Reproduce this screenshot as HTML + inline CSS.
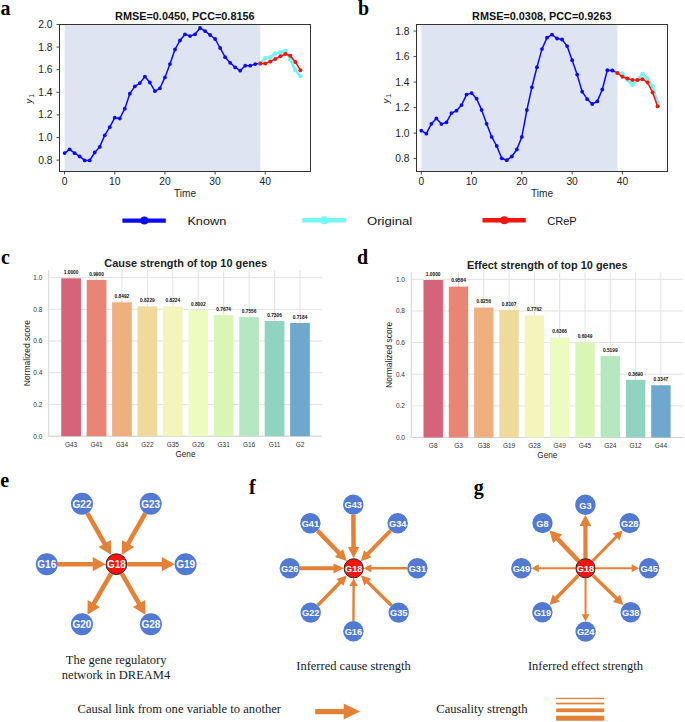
<!DOCTYPE html>
<html><head><meta charset="utf-8"><title>figure</title>
<style>html,body{margin:0;padding:0;background:#fff;overflow:hidden}svg{display:block}</style>
</head><body>
<svg width="685" height="722" viewBox="0 0 685 722">
<rect width="685" height="722" fill="#fff"/>
<rect x="64.60" y="24.5" width="195.66" height="147.0" fill="#dfe4f3"/>
<polyline points="64.60,153.10 69.62,149.30 74.63,153.20 79.65,156.40 84.67,160.40 89.69,160.40 94.70,152.50 99.72,146.90 104.74,135.30 109.75,127.20 114.77,117.70 119.79,118.50 124.80,108.70 129.82,93.70 134.84,86.40 139.86,83.10 144.87,76.60 149.89,82.50 154.91,91.20 159.92,88.30 164.94,77.40 169.96,64.10 174.97,49.50 179.99,40.40 185.01,34.30 190.03,36.10 195.04,34.30 200.06,28.00 205.08,31.10 210.09,35.00 215.11,39.00 220.13,48.00 225.14,57.20 230.16,62.80 235.18,67.40 240.19,70.70 245.21,65.70 250.23,65.70 255.25,64.10 260.26,63.50" fill="none" stroke="#0a0af5" stroke-width="1.5" stroke-linejoin="round"/>
<circle cx="64.60" cy="153.10" r="1.9" fill="#0a0af5"/>
<circle cx="69.62" cy="149.30" r="1.9" fill="#0a0af5"/>
<circle cx="74.63" cy="153.20" r="1.9" fill="#0a0af5"/>
<circle cx="79.65" cy="156.40" r="1.9" fill="#0a0af5"/>
<circle cx="84.67" cy="160.40" r="1.9" fill="#0a0af5"/>
<circle cx="89.69" cy="160.40" r="1.9" fill="#0a0af5"/>
<circle cx="94.70" cy="152.50" r="1.9" fill="#0a0af5"/>
<circle cx="99.72" cy="146.90" r="1.9" fill="#0a0af5"/>
<circle cx="104.74" cy="135.30" r="1.9" fill="#0a0af5"/>
<circle cx="109.75" cy="127.20" r="1.9" fill="#0a0af5"/>
<circle cx="114.77" cy="117.70" r="1.9" fill="#0a0af5"/>
<circle cx="119.79" cy="118.50" r="1.9" fill="#0a0af5"/>
<circle cx="124.80" cy="108.70" r="1.9" fill="#0a0af5"/>
<circle cx="129.82" cy="93.70" r="1.9" fill="#0a0af5"/>
<circle cx="134.84" cy="86.40" r="1.9" fill="#0a0af5"/>
<circle cx="139.86" cy="83.10" r="1.9" fill="#0a0af5"/>
<circle cx="144.87" cy="76.60" r="1.9" fill="#0a0af5"/>
<circle cx="149.89" cy="82.50" r="1.9" fill="#0a0af5"/>
<circle cx="154.91" cy="91.20" r="1.9" fill="#0a0af5"/>
<circle cx="159.92" cy="88.30" r="1.9" fill="#0a0af5"/>
<circle cx="164.94" cy="77.40" r="1.9" fill="#0a0af5"/>
<circle cx="169.96" cy="64.10" r="1.9" fill="#0a0af5"/>
<circle cx="174.97" cy="49.50" r="1.9" fill="#0a0af5"/>
<circle cx="179.99" cy="40.40" r="1.9" fill="#0a0af5"/>
<circle cx="185.01" cy="34.30" r="1.9" fill="#0a0af5"/>
<circle cx="190.03" cy="36.10" r="1.9" fill="#0a0af5"/>
<circle cx="195.04" cy="34.30" r="1.9" fill="#0a0af5"/>
<circle cx="200.06" cy="28.00" r="1.9" fill="#0a0af5"/>
<circle cx="205.08" cy="31.10" r="1.9" fill="#0a0af5"/>
<circle cx="210.09" cy="35.00" r="1.9" fill="#0a0af5"/>
<circle cx="215.11" cy="39.00" r="1.9" fill="#0a0af5"/>
<circle cx="220.13" cy="48.00" r="1.9" fill="#0a0af5"/>
<circle cx="225.14" cy="57.20" r="1.9" fill="#0a0af5"/>
<circle cx="230.16" cy="62.80" r="1.9" fill="#0a0af5"/>
<circle cx="235.18" cy="67.40" r="1.9" fill="#0a0af5"/>
<circle cx="240.19" cy="70.70" r="1.9" fill="#0a0af5"/>
<circle cx="245.21" cy="65.70" r="1.9" fill="#0a0af5"/>
<circle cx="250.23" cy="65.70" r="1.9" fill="#0a0af5"/>
<circle cx="255.25" cy="64.10" r="1.9" fill="#0a0af5"/>
<circle cx="260.26" cy="63.50" r="1.9" fill="#0a0af5"/>
<polyline points="260.26,63.50 265.28,58.20 270.30,57.30 275.31,53.40 280.33,52.30 285.35,50.90 290.37,59.50 295.38,70.10 300.40,76.10" fill="none" stroke="#72f5f2" stroke-width="2.6" stroke-linejoin="round"/>
<circle cx="260.26" cy="63.50" r="2.2" fill="#72f5f2"/>
<circle cx="265.28" cy="58.20" r="2.2" fill="#72f5f2"/>
<circle cx="270.30" cy="57.30" r="2.2" fill="#72f5f2"/>
<circle cx="275.31" cy="53.40" r="2.2" fill="#72f5f2"/>
<circle cx="280.33" cy="52.30" r="2.2" fill="#72f5f2"/>
<circle cx="285.35" cy="50.90" r="2.2" fill="#72f5f2"/>
<circle cx="290.37" cy="59.50" r="2.2" fill="#72f5f2"/>
<circle cx="295.38" cy="70.10" r="2.2" fill="#72f5f2"/>
<circle cx="300.40" cy="76.10" r="2.2" fill="#72f5f2"/>
<polyline points="260.26,63.50 265.28,63.50 270.30,61.40 275.31,58.90 280.33,56.30 285.35,54.10 290.37,55.80 295.38,61.90 300.40,70.20" fill="none" stroke="#f5150f" stroke-width="1.5" stroke-linejoin="round"/>
<circle cx="260.26" cy="63.50" r="2.0" fill="#f5150f"/>
<circle cx="265.28" cy="63.50" r="2.0" fill="#f5150f"/>
<circle cx="270.30" cy="61.40" r="2.0" fill="#f5150f"/>
<circle cx="275.31" cy="58.90" r="2.0" fill="#f5150f"/>
<circle cx="280.33" cy="56.30" r="2.0" fill="#f5150f"/>
<circle cx="285.35" cy="54.10" r="2.0" fill="#f5150f"/>
<circle cx="290.37" cy="55.80" r="2.0" fill="#f5150f"/>
<circle cx="295.38" cy="61.90" r="2.0" fill="#f5150f"/>
<circle cx="300.40" cy="70.20" r="2.0" fill="#f5150f"/>
<rect x="59.5" y="24.5" width="251.0" height="147.0" fill="none" stroke="#333" stroke-width="1"/>
<line x1="56.5" y1="160.10" x2="59.5" y2="160.10" stroke="#333" stroke-width="0.9"/>
<text x="52.50" y="163.60" font-family="Liberation Sans" font-size="10.2" fill="#1e1e1e" text-anchor="end" textLength="14.31" lengthAdjust="spacingAndGlyphs">0.8</text>
<line x1="56.5" y1="137.49" x2="59.5" y2="137.49" stroke="#333" stroke-width="0.9"/>
<text x="52.50" y="140.99" font-family="Liberation Sans" font-size="10.2" fill="#1e1e1e" text-anchor="end" textLength="14.31" lengthAdjust="spacingAndGlyphs">1.0</text>
<line x1="56.5" y1="114.88" x2="59.5" y2="114.88" stroke="#333" stroke-width="0.9"/>
<text x="52.50" y="118.38" font-family="Liberation Sans" font-size="10.2" fill="#1e1e1e" text-anchor="end" textLength="14.31" lengthAdjust="spacingAndGlyphs">1.2</text>
<line x1="56.5" y1="92.28" x2="59.5" y2="92.28" stroke="#333" stroke-width="0.9"/>
<text x="52.50" y="95.78" font-family="Liberation Sans" font-size="10.2" fill="#1e1e1e" text-anchor="end" textLength="14.31" lengthAdjust="spacingAndGlyphs">1.4</text>
<line x1="56.5" y1="69.67" x2="59.5" y2="69.67" stroke="#333" stroke-width="0.9"/>
<text x="52.50" y="73.17" font-family="Liberation Sans" font-size="10.2" fill="#1e1e1e" text-anchor="end" textLength="14.31" lengthAdjust="spacingAndGlyphs">1.6</text>
<line x1="56.5" y1="47.06" x2="59.5" y2="47.06" stroke="#333" stroke-width="0.9"/>
<text x="52.50" y="50.56" font-family="Liberation Sans" font-size="10.2" fill="#1e1e1e" text-anchor="end" textLength="14.31" lengthAdjust="spacingAndGlyphs">1.8</text>
<line x1="56.5" y1="24.45" x2="59.5" y2="24.45" stroke="#333" stroke-width="0.9"/>
<text x="52.50" y="27.95" font-family="Liberation Sans" font-size="10.2" fill="#1e1e1e" text-anchor="end" textLength="14.31" lengthAdjust="spacingAndGlyphs">2.0</text>
<line x1="64.60" y1="171.5" x2="64.60" y2="174.5" stroke="#333" stroke-width="0.9"/>
<text x="64.60" y="184.60" font-family="Liberation Sans" font-size="10.2" fill="#1e1e1e" text-anchor="middle" textLength="5.73" lengthAdjust="spacingAndGlyphs">0</text>
<line x1="114.77" y1="171.5" x2="114.77" y2="174.5" stroke="#333" stroke-width="0.9"/>
<text x="114.77" y="184.60" font-family="Liberation Sans" font-size="10.2" fill="#1e1e1e" text-anchor="middle" textLength="11.45" lengthAdjust="spacingAndGlyphs">10</text>
<line x1="164.94" y1="171.5" x2="164.94" y2="174.5" stroke="#333" stroke-width="0.9"/>
<text x="164.94" y="184.60" font-family="Liberation Sans" font-size="10.2" fill="#1e1e1e" text-anchor="middle" textLength="11.45" lengthAdjust="spacingAndGlyphs">20</text>
<line x1="215.11" y1="171.5" x2="215.11" y2="174.5" stroke="#333" stroke-width="0.9"/>
<text x="215.11" y="184.60" font-family="Liberation Sans" font-size="10.2" fill="#1e1e1e" text-anchor="middle" textLength="11.45" lengthAdjust="spacingAndGlyphs">30</text>
<line x1="265.28" y1="171.5" x2="265.28" y2="174.5" stroke="#333" stroke-width="0.9"/>
<text x="265.28" y="184.60" font-family="Liberation Sans" font-size="10.2" fill="#1e1e1e" text-anchor="middle" textLength="11.45" lengthAdjust="spacingAndGlyphs">40</text>
<text x="185.00" y="196.60" font-family="Liberation Sans" font-size="10.2" fill="#1e1e1e" text-anchor="middle" textLength="22.03" lengthAdjust="spacingAndGlyphs">Time</text>
<text x="184.85" y="19.70" font-family="Liberation Sans" font-size="10.0" font-weight="bold" fill="#111" text-anchor="middle" textLength="139.42" lengthAdjust="spacingAndGlyphs">RMSE=0.0450, PCC=0.8156</text>
<g transform="translate(32.20,103.60) rotate(-90)"><text x="0" y="0" font-family="Liberation Sans" font-size="9.6" font-style="italic" fill="#1e1e1e">y</text><text x="5.9" y="1.6" font-family="Liberation Sans" font-size="6.9" fill="#1e1e1e">1</text></g>
<rect x="421.30" y="24.5" width="196.07" height="147.0" fill="#dfe4f3"/>
<polyline points="421.30,130.70 426.33,133.70 431.36,123.80 436.38,118.40 441.41,124.10 446.44,122.30 451.47,113.10 456.49,110.70 461.52,105.10 466.55,94.60 471.57,93.10 476.60,98.70 481.63,109.90 486.66,123.80 491.69,136.90 496.71,146.00 501.74,158.30 506.77,160.20 511.80,156.50 516.82,149.50 521.85,136.90 526.88,110.00 531.90,87.30 536.93,67.20 541.96,49.10 546.99,37.70 552.01,34.70 557.04,38.50 562.07,39.50 567.10,46.10 572.12,60.20 577.15,74.60 582.18,91.70 587.21,99.20 592.24,104.00 597.26,101.40 602.29,89.50 607.32,70.20 612.35,70.50 617.37,72.90" fill="none" stroke="#0a0af5" stroke-width="1.5" stroke-linejoin="round"/>
<circle cx="421.30" cy="130.70" r="1.9" fill="#0a0af5"/>
<circle cx="426.33" cy="133.70" r="1.9" fill="#0a0af5"/>
<circle cx="431.36" cy="123.80" r="1.9" fill="#0a0af5"/>
<circle cx="436.38" cy="118.40" r="1.9" fill="#0a0af5"/>
<circle cx="441.41" cy="124.10" r="1.9" fill="#0a0af5"/>
<circle cx="446.44" cy="122.30" r="1.9" fill="#0a0af5"/>
<circle cx="451.47" cy="113.10" r="1.9" fill="#0a0af5"/>
<circle cx="456.49" cy="110.70" r="1.9" fill="#0a0af5"/>
<circle cx="461.52" cy="105.10" r="1.9" fill="#0a0af5"/>
<circle cx="466.55" cy="94.60" r="1.9" fill="#0a0af5"/>
<circle cx="471.57" cy="93.10" r="1.9" fill="#0a0af5"/>
<circle cx="476.60" cy="98.70" r="1.9" fill="#0a0af5"/>
<circle cx="481.63" cy="109.90" r="1.9" fill="#0a0af5"/>
<circle cx="486.66" cy="123.80" r="1.9" fill="#0a0af5"/>
<circle cx="491.69" cy="136.90" r="1.9" fill="#0a0af5"/>
<circle cx="496.71" cy="146.00" r="1.9" fill="#0a0af5"/>
<circle cx="501.74" cy="158.30" r="1.9" fill="#0a0af5"/>
<circle cx="506.77" cy="160.20" r="1.9" fill="#0a0af5"/>
<circle cx="511.80" cy="156.50" r="1.9" fill="#0a0af5"/>
<circle cx="516.82" cy="149.50" r="1.9" fill="#0a0af5"/>
<circle cx="521.85" cy="136.90" r="1.9" fill="#0a0af5"/>
<circle cx="526.88" cy="110.00" r="1.9" fill="#0a0af5"/>
<circle cx="531.90" cy="87.30" r="1.9" fill="#0a0af5"/>
<circle cx="536.93" cy="67.20" r="1.9" fill="#0a0af5"/>
<circle cx="541.96" cy="49.10" r="1.9" fill="#0a0af5"/>
<circle cx="546.99" cy="37.70" r="1.9" fill="#0a0af5"/>
<circle cx="552.01" cy="34.70" r="1.9" fill="#0a0af5"/>
<circle cx="557.04" cy="38.50" r="1.9" fill="#0a0af5"/>
<circle cx="562.07" cy="39.50" r="1.9" fill="#0a0af5"/>
<circle cx="567.10" cy="46.10" r="1.9" fill="#0a0af5"/>
<circle cx="572.12" cy="60.20" r="1.9" fill="#0a0af5"/>
<circle cx="577.15" cy="74.60" r="1.9" fill="#0a0af5"/>
<circle cx="582.18" cy="91.70" r="1.9" fill="#0a0af5"/>
<circle cx="587.21" cy="99.20" r="1.9" fill="#0a0af5"/>
<circle cx="592.24" cy="104.00" r="1.9" fill="#0a0af5"/>
<circle cx="597.26" cy="101.40" r="1.9" fill="#0a0af5"/>
<circle cx="602.29" cy="89.50" r="1.9" fill="#0a0af5"/>
<circle cx="607.32" cy="70.20" r="1.9" fill="#0a0af5"/>
<circle cx="612.35" cy="70.50" r="1.9" fill="#0a0af5"/>
<circle cx="617.37" cy="72.90" r="1.9" fill="#0a0af5"/>
<polyline points="617.37,72.90 622.40,73.70 627.43,80.10 632.46,84.80 637.48,79.80 642.51,74.00 647.54,78.40 652.57,86.30 657.59,102.60" fill="none" stroke="#72f5f2" stroke-width="2.6" stroke-linejoin="round"/>
<circle cx="617.37" cy="72.90" r="2.2" fill="#72f5f2"/>
<circle cx="622.40" cy="73.70" r="2.2" fill="#72f5f2"/>
<circle cx="627.43" cy="80.10" r="2.2" fill="#72f5f2"/>
<circle cx="632.46" cy="84.80" r="2.2" fill="#72f5f2"/>
<circle cx="637.48" cy="79.80" r="2.2" fill="#72f5f2"/>
<circle cx="642.51" cy="74.00" r="2.2" fill="#72f5f2"/>
<circle cx="647.54" cy="78.40" r="2.2" fill="#72f5f2"/>
<circle cx="652.57" cy="86.30" r="2.2" fill="#72f5f2"/>
<circle cx="657.59" cy="102.60" r="2.2" fill="#72f5f2"/>
<polyline points="617.37,72.90 622.40,76.80 627.43,78.60 632.46,80.10 637.48,80.10 642.51,79.20 647.54,82.40 652.57,92.40 657.59,106.20" fill="none" stroke="#f5150f" stroke-width="1.5" stroke-linejoin="round"/>
<circle cx="617.37" cy="72.90" r="2.0" fill="#f5150f"/>
<circle cx="622.40" cy="76.80" r="2.0" fill="#f5150f"/>
<circle cx="627.43" cy="78.60" r="2.0" fill="#f5150f"/>
<circle cx="632.46" cy="80.10" r="2.0" fill="#f5150f"/>
<circle cx="637.48" cy="80.10" r="2.0" fill="#f5150f"/>
<circle cx="642.51" cy="79.20" r="2.0" fill="#f5150f"/>
<circle cx="647.54" cy="82.40" r="2.0" fill="#f5150f"/>
<circle cx="652.57" cy="92.40" r="2.0" fill="#f5150f"/>
<circle cx="657.59" cy="106.20" r="2.0" fill="#f5150f"/>
<rect x="416.5" y="24.5" width="251.0" height="147.0" fill="none" stroke="#333" stroke-width="1"/>
<line x1="413.5" y1="158.60" x2="416.5" y2="158.60" stroke="#333" stroke-width="0.9"/>
<text x="409.50" y="162.10" font-family="Liberation Sans" font-size="10.2" fill="#1e1e1e" text-anchor="end" textLength="14.31" lengthAdjust="spacingAndGlyphs">0.8</text>
<line x1="413.5" y1="133.10" x2="416.5" y2="133.10" stroke="#333" stroke-width="0.9"/>
<text x="409.50" y="136.60" font-family="Liberation Sans" font-size="10.2" fill="#1e1e1e" text-anchor="end" textLength="14.31" lengthAdjust="spacingAndGlyphs">1.0</text>
<line x1="413.5" y1="107.60" x2="416.5" y2="107.60" stroke="#333" stroke-width="0.9"/>
<text x="409.50" y="111.10" font-family="Liberation Sans" font-size="10.2" fill="#1e1e1e" text-anchor="end" textLength="14.31" lengthAdjust="spacingAndGlyphs">1.2</text>
<line x1="413.5" y1="82.10" x2="416.5" y2="82.10" stroke="#333" stroke-width="0.9"/>
<text x="409.50" y="85.60" font-family="Liberation Sans" font-size="10.2" fill="#1e1e1e" text-anchor="end" textLength="14.31" lengthAdjust="spacingAndGlyphs">1.4</text>
<line x1="413.5" y1="56.60" x2="416.5" y2="56.60" stroke="#333" stroke-width="0.9"/>
<text x="409.50" y="60.10" font-family="Liberation Sans" font-size="10.2" fill="#1e1e1e" text-anchor="end" textLength="14.31" lengthAdjust="spacingAndGlyphs">1.6</text>
<line x1="413.5" y1="31.10" x2="416.5" y2="31.10" stroke="#333" stroke-width="0.9"/>
<text x="409.50" y="34.60" font-family="Liberation Sans" font-size="10.2" fill="#1e1e1e" text-anchor="end" textLength="14.31" lengthAdjust="spacingAndGlyphs">1.8</text>
<line x1="421.30" y1="171.5" x2="421.30" y2="174.5" stroke="#333" stroke-width="0.9"/>
<text x="421.30" y="184.60" font-family="Liberation Sans" font-size="10.2" fill="#1e1e1e" text-anchor="middle" textLength="5.73" lengthAdjust="spacingAndGlyphs">0</text>
<line x1="471.57" y1="171.5" x2="471.57" y2="174.5" stroke="#333" stroke-width="0.9"/>
<text x="471.57" y="184.60" font-family="Liberation Sans" font-size="10.2" fill="#1e1e1e" text-anchor="middle" textLength="11.45" lengthAdjust="spacingAndGlyphs">10</text>
<line x1="521.85" y1="171.5" x2="521.85" y2="174.5" stroke="#333" stroke-width="0.9"/>
<text x="521.85" y="184.60" font-family="Liberation Sans" font-size="10.2" fill="#1e1e1e" text-anchor="middle" textLength="11.45" lengthAdjust="spacingAndGlyphs">20</text>
<line x1="572.12" y1="171.5" x2="572.12" y2="174.5" stroke="#333" stroke-width="0.9"/>
<text x="572.12" y="184.60" font-family="Liberation Sans" font-size="10.2" fill="#1e1e1e" text-anchor="middle" textLength="11.45" lengthAdjust="spacingAndGlyphs">30</text>
<line x1="622.40" y1="171.5" x2="622.40" y2="174.5" stroke="#333" stroke-width="0.9"/>
<text x="622.40" y="184.60" font-family="Liberation Sans" font-size="10.2" fill="#1e1e1e" text-anchor="middle" textLength="11.45" lengthAdjust="spacingAndGlyphs">40</text>
<text x="542.00" y="196.60" font-family="Liberation Sans" font-size="10.2" fill="#1e1e1e" text-anchor="middle" textLength="22.03" lengthAdjust="spacingAndGlyphs">Time</text>
<text x="541.80" y="19.70" font-family="Liberation Sans" font-size="10.0" font-weight="bold" fill="#111" text-anchor="middle" textLength="139.42" lengthAdjust="spacingAndGlyphs">RMSE=0.0308, PCC=0.9263</text>
<g transform="translate(389.20,103.60) rotate(-90)"><text x="0" y="0" font-family="Liberation Sans" font-size="9.6" font-style="italic" fill="#1e1e1e">y</text><text x="5.9" y="1.6" font-family="Liberation Sans" font-size="6.9" fill="#1e1e1e">1</text></g>
<text x="0.55" y="15.10" font-family="Liberation Serif" font-size="20" font-weight="bold" fill="#000">a</text>
<text x="357.90" y="15.40" font-family="Liberation Serif" font-size="20" font-weight="bold" fill="#000">b</text>
<text x="0.95" y="263.50" font-family="Liberation Serif" font-size="20" font-weight="bold" fill="#000">c</text>
<text x="357.10" y="263.70" font-family="Liberation Serif" font-size="20" font-weight="bold" fill="#000">d</text>
<text x="0.15" y="487.20" font-family="Liberation Serif" font-size="20" font-weight="bold" fill="#000">e</text>
<text x="249.00" y="493.50" font-family="Liberation Serif" font-size="20" font-weight="bold" fill="#000">f</text>
<text x="473.80" y="493.60" font-family="Liberation Serif" font-size="20" font-weight="bold" fill="#000">g</text>
<line x1="122.4" y1="220.6" x2="165.8" y2="220.6" stroke="#0a0af5" stroke-width="4.4"/>
<circle cx="144.3" cy="220.6" r="4" fill="#0a0af5"/>
<text x="187.40" y="224.50" font-family="Liberation Sans" font-size="11.8" fill="#141414" textLength="38.90" lengthAdjust="spacingAndGlyphs">Known</text>
<line x1="302.3" y1="220.3" x2="345.8" y2="220.3" stroke="#72f9f5" stroke-width="4.4"/>
<circle cx="324.3" cy="220.3" r="4" fill="#72f9f5"/>
<text x="367.00" y="224.50" font-family="Liberation Sans" font-size="11.8" fill="#141414" textLength="45.20" lengthAdjust="spacingAndGlyphs">Original</text>
<line x1="482.5" y1="220.3" x2="525.8" y2="220.3" stroke="#f5150f" stroke-width="4.4"/>
<circle cx="504.3" cy="220.3" r="4" fill="#f5150f"/>
<text x="547.20" y="224.50" font-family="Liberation Sans" font-size="11.8" fill="#141414" textLength="29.50" lengthAdjust="spacingAndGlyphs">CReP</text>
<line x1="48.7" y1="436.20" x2="322.2" y2="436.20" stroke="#e2e2e2" stroke-width="1"/>
<text x="42.40" y="438.50" font-family="Liberation Sans" font-size="6.5" fill="#333" text-anchor="end">0.0</text>
<line x1="48.7" y1="404.48" x2="322.2" y2="404.48" stroke="#e2e2e2" stroke-width="1"/>
<text x="42.40" y="406.78" font-family="Liberation Sans" font-size="6.5" fill="#333" text-anchor="end">0.2</text>
<line x1="48.7" y1="372.76" x2="322.2" y2="372.76" stroke="#e2e2e2" stroke-width="1"/>
<text x="42.40" y="375.06" font-family="Liberation Sans" font-size="6.5" fill="#333" text-anchor="end">0.4</text>
<line x1="48.7" y1="341.04" x2="322.2" y2="341.04" stroke="#e2e2e2" stroke-width="1"/>
<text x="42.40" y="343.34" font-family="Liberation Sans" font-size="6.5" fill="#333" text-anchor="end">0.6</text>
<line x1="48.7" y1="309.32" x2="322.2" y2="309.32" stroke="#e2e2e2" stroke-width="1"/>
<text x="42.40" y="311.62" font-family="Liberation Sans" font-size="6.5" fill="#333" text-anchor="end">0.8</text>
<line x1="48.7" y1="277.60" x2="322.2" y2="277.60" stroke="#e2e2e2" stroke-width="1"/>
<text x="42.40" y="279.90" font-family="Liberation Sans" font-size="6.5" fill="#333" text-anchor="end">1.0</text>
<line x1="71.10" y1="270.2" x2="71.10" y2="436.2" stroke="#e2e2e2" stroke-width="1"/>
<line x1="96.53" y1="270.2" x2="96.53" y2="436.2" stroke="#e2e2e2" stroke-width="1"/>
<line x1="121.96" y1="270.2" x2="121.96" y2="436.2" stroke="#e2e2e2" stroke-width="1"/>
<line x1="147.39" y1="270.2" x2="147.39" y2="436.2" stroke="#e2e2e2" stroke-width="1"/>
<line x1="172.82" y1="270.2" x2="172.82" y2="436.2" stroke="#e2e2e2" stroke-width="1"/>
<line x1="198.25" y1="270.2" x2="198.25" y2="436.2" stroke="#e2e2e2" stroke-width="1"/>
<line x1="223.68" y1="270.2" x2="223.68" y2="436.2" stroke="#e2e2e2" stroke-width="1"/>
<line x1="249.11" y1="270.2" x2="249.11" y2="436.2" stroke="#e2e2e2" stroke-width="1"/>
<line x1="274.54" y1="270.2" x2="274.54" y2="436.2" stroke="#e2e2e2" stroke-width="1"/>
<line x1="299.97" y1="270.2" x2="299.97" y2="436.2" stroke="#e2e2e2" stroke-width="1"/>
<line x1="48.7" y1="270.2" x2="48.7" y2="436.7" stroke="#d4d6d6" stroke-width="1"/>
<line x1="48.7" y1="436.2" x2="322.2" y2="436.2" stroke="#d4d6d6" stroke-width="1"/>
<rect x="61.25" y="278.30" width="19.7" height="157.90" fill="#d5637a"/>
<text x="71.10" y="274.10" font-family="Liberation Sans" font-size="4.8" font-weight="bold" fill="#111" text-anchor="middle">1.0000</text>
<text x="71.10" y="446.90" font-family="Liberation Sans" font-size="6.5" fill="#333" text-anchor="middle">G43</text>
<rect x="86.68" y="279.89" width="19.7" height="156.31" fill="#e88574"/>
<text x="96.53" y="275.69" font-family="Liberation Sans" font-size="4.8" font-weight="bold" fill="#111" text-anchor="middle">0.9900</text>
<text x="96.53" y="446.90" font-family="Liberation Sans" font-size="6.5" fill="#333" text-anchor="middle">G41</text>
<rect x="112.11" y="302.22" width="19.7" height="133.98" fill="#efb07f"/>
<text x="121.96" y="298.02" font-family="Liberation Sans" font-size="4.8" font-weight="bold" fill="#111" text-anchor="middle">0.8492</text>
<text x="121.96" y="446.90" font-family="Liberation Sans" font-size="6.5" fill="#333" text-anchor="middle">G34</text>
<rect x="137.54" y="306.39" width="19.7" height="129.81" fill="#f0da9b"/>
<text x="147.39" y="302.19" font-family="Liberation Sans" font-size="4.8" font-weight="bold" fill="#111" text-anchor="middle">0.8229</text>
<text x="147.39" y="446.90" font-family="Liberation Sans" font-size="6.5" fill="#333" text-anchor="middle">G22</text>
<rect x="162.97" y="306.47" width="19.7" height="129.73" fill="#f4f5bc"/>
<text x="172.82" y="302.27" font-family="Liberation Sans" font-size="4.8" font-weight="bold" fill="#111" text-anchor="middle">0.8224</text>
<text x="172.82" y="446.90" font-family="Liberation Sans" font-size="6.5" fill="#333" text-anchor="middle">G35</text>
<rect x="188.40" y="309.99" width="19.7" height="126.21" fill="#eefbc0"/>
<text x="198.25" y="305.79" font-family="Liberation Sans" font-size="4.8" font-weight="bold" fill="#111" text-anchor="middle">0.8002</text>
<text x="198.25" y="446.90" font-family="Liberation Sans" font-size="6.5" fill="#333" text-anchor="middle">G26</text>
<rect x="213.83" y="315.19" width="19.7" height="121.01" fill="#d9f6b4"/>
<text x="223.68" y="310.99" font-family="Liberation Sans" font-size="4.8" font-weight="bold" fill="#111" text-anchor="middle">0.7674</text>
<text x="223.68" y="446.90" font-family="Liberation Sans" font-size="6.5" fill="#333" text-anchor="middle">G31</text>
<rect x="239.26" y="317.06" width="19.7" height="119.14" fill="#b5e8c0"/>
<text x="249.11" y="312.86" font-family="Liberation Sans" font-size="4.8" font-weight="bold" fill="#111" text-anchor="middle">0.7556</text>
<text x="249.11" y="446.90" font-family="Liberation Sans" font-size="6.5" fill="#333" text-anchor="middle">G16</text>
<rect x="264.69" y="321.03" width="19.7" height="115.17" fill="#8fd3c0"/>
<text x="274.54" y="316.83" font-family="Liberation Sans" font-size="4.8" font-weight="bold" fill="#111" text-anchor="middle">0.7306</text>
<text x="274.54" y="446.90" font-family="Liberation Sans" font-size="6.5" fill="#333" text-anchor="middle">G11</text>
<rect x="290.12" y="322.96" width="19.7" height="113.24" fill="#6ea8cd"/>
<text x="299.97" y="318.76" font-family="Liberation Sans" font-size="4.8" font-weight="bold" fill="#111" text-anchor="middle">0.7184</text>
<text x="299.97" y="446.90" font-family="Liberation Sans" font-size="6.5" fill="#333" text-anchor="middle">G2</text>
<text x="185.45" y="457.00" font-family="Liberation Sans" font-size="8.2" fill="#262626" text-anchor="middle">Gene</text>
<text transform="translate(29.90,353.20) rotate(-90)" x="0" y="0" font-family="Liberation Sans" font-size="8.5" fill="#262626" text-anchor="middle">Normalized score</text>
<text x="185.70" y="266.70" font-family="Liberation Sans" font-size="10.95" font-weight="bold" fill="#222" text-anchor="middle">Cause strength of top 10 genes</text>
<line x1="411.3" y1="437.50" x2="683.3" y2="437.50" stroke="#e2e2e2" stroke-width="1"/>
<text x="405.00" y="439.80" font-family="Liberation Sans" font-size="6.5" fill="#333" text-anchor="end">0.0</text>
<line x1="411.3" y1="405.86" x2="683.3" y2="405.86" stroke="#e2e2e2" stroke-width="1"/>
<text x="405.00" y="408.16" font-family="Liberation Sans" font-size="6.5" fill="#333" text-anchor="end">0.2</text>
<line x1="411.3" y1="374.22" x2="683.3" y2="374.22" stroke="#e2e2e2" stroke-width="1"/>
<text x="405.00" y="376.52" font-family="Liberation Sans" font-size="6.5" fill="#333" text-anchor="end">0.4</text>
<line x1="411.3" y1="342.58" x2="683.3" y2="342.58" stroke="#e2e2e2" stroke-width="1"/>
<text x="405.00" y="344.88" font-family="Liberation Sans" font-size="6.5" fill="#333" text-anchor="end">0.6</text>
<line x1="411.3" y1="310.94" x2="683.3" y2="310.94" stroke="#e2e2e2" stroke-width="1"/>
<text x="405.00" y="313.24" font-family="Liberation Sans" font-size="6.5" fill="#333" text-anchor="end">0.8</text>
<line x1="411.3" y1="279.30" x2="683.3" y2="279.30" stroke="#e2e2e2" stroke-width="1"/>
<text x="405.00" y="281.60" font-family="Liberation Sans" font-size="6.5" fill="#333" text-anchor="end">1.0</text>
<line x1="433.20" y1="272.2" x2="433.20" y2="437.5" stroke="#e2e2e2" stroke-width="1"/>
<line x1="458.50" y1="272.2" x2="458.50" y2="437.5" stroke="#e2e2e2" stroke-width="1"/>
<line x1="483.80" y1="272.2" x2="483.80" y2="437.5" stroke="#e2e2e2" stroke-width="1"/>
<line x1="509.10" y1="272.2" x2="509.10" y2="437.5" stroke="#e2e2e2" stroke-width="1"/>
<line x1="534.40" y1="272.2" x2="534.40" y2="437.5" stroke="#e2e2e2" stroke-width="1"/>
<line x1="559.70" y1="272.2" x2="559.70" y2="437.5" stroke="#e2e2e2" stroke-width="1"/>
<line x1="585.00" y1="272.2" x2="585.00" y2="437.5" stroke="#e2e2e2" stroke-width="1"/>
<line x1="610.30" y1="272.2" x2="610.30" y2="437.5" stroke="#e2e2e2" stroke-width="1"/>
<line x1="635.60" y1="272.2" x2="635.60" y2="437.5" stroke="#e2e2e2" stroke-width="1"/>
<line x1="660.90" y1="272.2" x2="660.90" y2="437.5" stroke="#e2e2e2" stroke-width="1"/>
<line x1="411.3" y1="272.2" x2="411.3" y2="438.0" stroke="#d4d6d6" stroke-width="1"/>
<line x1="411.3" y1="437.5" x2="683.3" y2="437.5" stroke="#d4d6d6" stroke-width="1"/>
<rect x="423.50" y="280.00" width="19.4" height="157.50" fill="#d5637a"/>
<text x="433.20" y="275.80" font-family="Liberation Sans" font-size="4.8" font-weight="bold" fill="#111" text-anchor="middle">1.0000</text>
<text x="433.20" y="448.20" font-family="Liberation Sans" font-size="6.5" fill="#333" text-anchor="middle">G8</text>
<rect x="448.80" y="286.58" width="19.4" height="150.92" fill="#e88574"/>
<text x="458.50" y="282.38" font-family="Liberation Sans" font-size="4.8" font-weight="bold" fill="#111" text-anchor="middle">0.9584</text>
<text x="458.50" y="448.20" font-family="Liberation Sans" font-size="6.5" fill="#333" text-anchor="middle">G3</text>
<rect x="474.10" y="307.59" width="19.4" height="129.91" fill="#efb07f"/>
<text x="483.80" y="303.39" font-family="Liberation Sans" font-size="4.8" font-weight="bold" fill="#111" text-anchor="middle">0.8256</text>
<text x="483.80" y="448.20" font-family="Liberation Sans" font-size="6.5" fill="#333" text-anchor="middle">G38</text>
<rect x="499.40" y="309.95" width="19.4" height="127.55" fill="#f0da9b"/>
<text x="509.10" y="305.75" font-family="Liberation Sans" font-size="4.8" font-weight="bold" fill="#111" text-anchor="middle">0.8107</text>
<text x="509.10" y="448.20" font-family="Liberation Sans" font-size="6.5" fill="#333" text-anchor="middle">G19</text>
<rect x="524.70" y="315.41" width="19.4" height="122.09" fill="#f4f5bc"/>
<text x="534.40" y="311.21" font-family="Liberation Sans" font-size="4.8" font-weight="bold" fill="#111" text-anchor="middle">0.7762</text>
<text x="534.40" y="448.20" font-family="Liberation Sans" font-size="6.5" fill="#333" text-anchor="middle">G28</text>
<rect x="550.00" y="337.49" width="19.4" height="100.01" fill="#eefbc0"/>
<text x="559.70" y="333.29" font-family="Liberation Sans" font-size="4.8" font-weight="bold" fill="#111" text-anchor="middle">0.6366</text>
<text x="559.70" y="448.20" font-family="Liberation Sans" font-size="6.5" fill="#333" text-anchor="middle">G49</text>
<rect x="575.30" y="342.50" width="19.4" height="95.00" fill="#d9f6b4"/>
<text x="585.00" y="338.30" font-family="Liberation Sans" font-size="4.8" font-weight="bold" fill="#111" text-anchor="middle">0.6049</text>
<text x="585.00" y="448.20" font-family="Liberation Sans" font-size="6.5" fill="#333" text-anchor="middle">G45</text>
<rect x="600.60" y="355.95" width="19.4" height="81.55" fill="#b5e8c0"/>
<text x="610.30" y="351.75" font-family="Liberation Sans" font-size="4.8" font-weight="bold" fill="#111" text-anchor="middle">0.5199</text>
<text x="610.30" y="448.20" font-family="Liberation Sans" font-size="6.5" fill="#333" text-anchor="middle">G24</text>
<rect x="625.90" y="379.82" width="19.4" height="57.68" fill="#8fd3c0"/>
<text x="635.60" y="375.62" font-family="Liberation Sans" font-size="4.8" font-weight="bold" fill="#111" text-anchor="middle">0.3690</text>
<text x="635.60" y="448.20" font-family="Liberation Sans" font-size="6.5" fill="#333" text-anchor="middle">G12</text>
<rect x="651.20" y="385.25" width="19.4" height="52.25" fill="#6ea8cd"/>
<text x="660.90" y="381.05" font-family="Liberation Sans" font-size="4.8" font-weight="bold" fill="#111" text-anchor="middle">0.3347</text>
<text x="660.90" y="448.20" font-family="Liberation Sans" font-size="6.5" fill="#333" text-anchor="middle">G44</text>
<text x="547.30" y="458.30" font-family="Liberation Sans" font-size="8.2" fill="#262626" text-anchor="middle">Gene</text>
<text transform="translate(391.60,354.85) rotate(-90)" x="0" y="0" font-family="Liberation Sans" font-size="8.5" fill="#262626" text-anchor="middle">Normalized score</text>
<text x="547.30" y="268.90" font-family="Liberation Sans" font-size="10.95" font-weight="bold" fill="#222" text-anchor="middle">Effect strength of top 10 genes</text>
<polygon points="85.45,514.45 102.72,544.75 98.55,547.12 111.05,554.73 110.88,540.09 106.71,542.47 89.44,512.17" fill="#e58136"/>
<polygon points="143.28,512.19 126.13,542.45 121.96,540.08 121.82,554.72 134.31,547.08 130.13,544.71 147.28,514.45" fill="#e58136"/>
<polygon points="57.80,566.50 92.75,566.50 92.75,571.30 105.55,564.20 92.75,557.10 92.75,561.90 57.80,561.90" fill="#e58136"/>
<polygon points="127.35,566.50 161.80,566.50 161.80,571.30 174.60,564.20 161.80,557.10 161.80,561.90 127.35,561.90" fill="#e58136"/>
<polygon points="109.02,572.50 91.82,602.42 87.66,600.03 87.43,614.66 99.97,607.11 95.81,604.71 113.01,574.80" fill="#e58136"/>
<polygon points="119.88,574.80 137.05,604.71 132.89,607.10 145.42,614.66 145.21,600.02 141.04,602.41 123.87,572.51" fill="#e58136"/>
<circle cx="82.00" cy="503.75" r="11.0" fill="#527ad2"/>
<text x="82.00" y="507.85" font-family="Liberation Sans" font-size="10.0" font-weight="bold" fill="#fff" text-anchor="middle">G22</text>
<circle cx="150.70" cy="503.75" r="11.0" fill="#527ad2"/>
<text x="150.70" y="507.85" font-family="Liberation Sans" font-size="10.0" font-weight="bold" fill="#fff" text-anchor="middle">G23</text>
<circle cx="46.80" cy="564.20" r="11.0" fill="#527ad2"/>
<text x="46.80" y="568.30" font-family="Liberation Sans" font-size="10.0" font-weight="bold" fill="#fff" text-anchor="middle">G16</text>
<circle cx="185.60" cy="564.20" r="11.0" fill="#527ad2"/>
<text x="185.60" y="568.30" font-family="Liberation Sans" font-size="10.0" font-weight="bold" fill="#fff" text-anchor="middle">G19</text>
<circle cx="81.95" cy="624.20" r="11.0" fill="#527ad2"/>
<text x="81.95" y="628.30" font-family="Liberation Sans" font-size="10.0" font-weight="bold" fill="#fff" text-anchor="middle">G20</text>
<circle cx="150.90" cy="624.20" r="11.0" fill="#527ad2"/>
<text x="150.90" y="628.30" font-family="Liberation Sans" font-size="10.0" font-weight="bold" fill="#fff" text-anchor="middle">G28</text>
<circle cx="116.45" cy="564.20" r="10.4" fill="#f8140c" stroke="#1a1a1a" stroke-width="0.9"/>
<text x="116.45" y="568.30" font-family="Liberation Sans" font-size="10.0" font-weight="bold" fill="#fff" text-anchor="middle">G18</text>
<text x="116.20" y="663.60" font-family="Liberation Serif" font-size="12.5" fill="#1a1a1a" text-anchor="middle">The gene regulatory</text>
<text x="116.00" y="678.60" font-family="Liberation Serif" font-size="12.5" fill="#1a1a1a" text-anchor="middle">network in DREAM4</text>
<polygon points="351.11,514.81 351.32,547.11 347.92,547.14 353.64,558.30 359.22,547.06 355.82,547.09 355.61,514.79" fill="#e58136"/>
<polygon points="389.21,529.26 366.46,552.53 364.14,550.26 360.69,561.15 371.50,557.46 369.18,555.19 391.93,531.92" fill="#e58136"/>
<polygon points="407.20,567.10 371.40,567.10 371.40,564.15 363.70,568.30 371.40,572.45 371.40,569.50 407.20,569.50" fill="#e58136"/>
<polygon points="392.62,604.23 368.93,580.91 371.18,578.63 360.83,575.32 364.30,585.61 366.55,583.33 390.24,606.66" fill="#e58136"/>
<polygon points="354.65,621.01 354.82,586.01 357.77,586.02 353.65,578.30 349.47,585.98 352.42,585.99 352.25,620.99" fill="#e58136"/>
<polygon points="319.06,606.50 341.23,583.65 343.49,585.85 346.74,575.48 336.46,579.02 338.72,581.22 316.55,604.06" fill="#e58136"/>
<polygon points="300.00,570.25 333.50,570.25 333.50,573.45 343.70,568.30 333.50,563.15 333.50,566.35 300.00,566.35" fill="#e58136"/>
<polygon points="315.89,532.18 337.42,554.55 334.93,556.94 346.77,561.09 343.07,549.11 340.59,551.50 319.06,529.12" fill="#e58136"/>
<circle cx="353.30" cy="504.60" r="10.2" fill="#527ad2"/>
<text x="353.30" y="508.41" font-family="Liberation Sans" font-size="9.2" font-weight="bold" fill="#fff" text-anchor="middle">G43</text>
<circle cx="397.70" cy="523.30" r="10.2" fill="#527ad2"/>
<text x="397.70" y="527.11" font-family="Liberation Sans" font-size="9.2" font-weight="bold" fill="#fff" text-anchor="middle">G34</text>
<circle cx="417.40" cy="568.30" r="10.2" fill="#527ad2"/>
<text x="417.40" y="572.11" font-family="Liberation Sans" font-size="9.2" font-weight="bold" fill="#fff" text-anchor="middle">G31</text>
<circle cx="398.70" cy="612.60" r="10.2" fill="#527ad2"/>
<text x="398.70" y="616.41" font-family="Liberation Sans" font-size="9.2" font-weight="bold" fill="#fff" text-anchor="middle">G35</text>
<circle cx="353.40" cy="631.20" r="10.2" fill="#527ad2"/>
<text x="353.40" y="635.01" font-family="Liberation Sans" font-size="9.2" font-weight="bold" fill="#fff" text-anchor="middle">G16</text>
<circle cx="310.70" cy="612.60" r="10.2" fill="#527ad2"/>
<text x="310.70" y="616.41" font-family="Liberation Sans" font-size="9.2" font-weight="bold" fill="#fff" text-anchor="middle">G22</text>
<circle cx="289.80" cy="568.30" r="10.2" fill="#527ad2"/>
<text x="289.80" y="572.11" font-family="Liberation Sans" font-size="9.2" font-weight="bold" fill="#fff" text-anchor="middle">G26</text>
<circle cx="310.40" cy="523.30" r="10.2" fill="#527ad2"/>
<text x="310.40" y="527.11" font-family="Liberation Sans" font-size="9.2" font-weight="bold" fill="#fff" text-anchor="middle">G41</text>
<circle cx="353.70" cy="568.30" r="9.6" fill="#f8140c" stroke="#1a1a1a" stroke-width="0.9"/>
<text x="353.70" y="572.11" font-family="Liberation Sans" font-size="9.2" font-weight="bold" fill="#fff" text-anchor="middle">G18</text>
<text x="353.50" y="670.20" font-family="Liberation Serif" font-size="12.5" fill="#1a1a1a" text-anchor="middle">Inferred cause strength</text>
<polygon points="587.58,558.20 587.53,526.10 591.33,526.09 585.42,514.90 579.53,526.11 583.33,526.10 583.38,558.20" fill="#e58136"/>
<polygon points="593.57,562.11 617.19,538.01 619.62,540.39 622.56,530.38 612.62,533.53 615.05,535.91 591.43,560.01" fill="#e58136"/>
<polygon points="595.50,569.22 631.70,569.27 631.69,572.17 638.90,568.28 631.71,564.37 631.70,567.27 595.50,567.22" fill="#e58136"/>
<polygon points="591.48,576.39 615.25,599.54 612.85,602.01 623.39,605.09 620.03,594.63 617.63,597.10 593.85,573.96" fill="#e58136"/>
<polygon points="584.52,578.20 584.57,614.20 581.67,614.21 585.58,621.40 589.47,614.19 586.57,614.20 586.52,578.20" fill="#e58136"/>
<polygon points="577.22,574.08 555.04,596.72 552.65,594.38 549.54,604.91 560.00,601.59 557.61,599.24 579.79,576.60" fill="#e58136"/>
<polygon points="575.50,567.22 538.80,567.27 538.79,564.37 531.60,568.28 538.81,572.17 538.80,569.27 575.50,569.22" fill="#e58136"/>
<polygon points="580.26,559.38 559.28,537.36 562.24,534.53 549.54,530.48 552.98,543.37 555.95,540.54 576.93,562.55" fill="#e58136"/>
<circle cx="585.40" cy="504.70" r="10.2" fill="#527ad2"/>
<text x="585.40" y="508.51" font-family="Liberation Sans" font-size="9.2" font-weight="bold" fill="#fff" text-anchor="middle">G3</text>
<circle cx="629.70" cy="523.10" r="10.2" fill="#527ad2"/>
<text x="629.70" y="526.91" font-family="Liberation Sans" font-size="9.2" font-weight="bold" fill="#fff" text-anchor="middle">G28</text>
<circle cx="649.10" cy="568.30" r="10.2" fill="#527ad2"/>
<text x="649.10" y="572.11" font-family="Liberation Sans" font-size="9.2" font-weight="bold" fill="#fff" text-anchor="middle">G45</text>
<circle cx="630.70" cy="612.20" r="10.2" fill="#527ad2"/>
<text x="630.70" y="616.01" font-family="Liberation Sans" font-size="9.2" font-weight="bold" fill="#fff" text-anchor="middle">G38</text>
<circle cx="585.60" cy="631.60" r="10.2" fill="#527ad2"/>
<text x="585.60" y="635.41" font-family="Liberation Sans" font-size="9.2" font-weight="bold" fill="#fff" text-anchor="middle">G24</text>
<circle cx="542.40" cy="612.20" r="10.2" fill="#527ad2"/>
<text x="542.40" y="616.01" font-family="Liberation Sans" font-size="9.2" font-weight="bold" fill="#fff" text-anchor="middle">G19</text>
<circle cx="521.40" cy="568.30" r="10.2" fill="#527ad2"/>
<text x="521.40" y="572.11" font-family="Liberation Sans" font-size="9.2" font-weight="bold" fill="#fff" text-anchor="middle">G49</text>
<circle cx="542.50" cy="523.10" r="10.2" fill="#527ad2"/>
<text x="542.50" y="526.91" font-family="Liberation Sans" font-size="9.2" font-weight="bold" fill="#fff" text-anchor="middle">G8</text>
<circle cx="585.50" cy="568.20" r="9.6" fill="#f8140c" stroke="#1a1a1a" stroke-width="0.9"/>
<text x="585.50" y="572.01" font-family="Liberation Sans" font-size="9.2" font-weight="bold" fill="#fff" text-anchor="middle">G18</text>
<text x="585.40" y="670.20" font-family="Liberation Serif" font-size="12.5" fill="#1a1a1a" text-anchor="middle">Inferred effect strength</text>
<text x="77.50" y="713.40" font-family="Liberation Serif" font-size="12.6" fill="#1a1a1a">Causal link from one variable to another</text>
<polygon points="315.2,708.9 343.7,708.9 343.7,703.4 360.1,711.5 343.7,719.4 343.7,714.2 315.2,714.2" fill="#e58136"/>
<text x="436.30" y="713.40" font-family="Liberation Serif" font-size="12.6" fill="#1a1a1a">Causality strength</text>
<rect x="556.1" y="697.75" width="48.1" height="1.3" fill="#e58136"/>
<rect x="556.1" y="702.60" width="48.1" height="1.8" fill="#e58136"/>
<rect x="556.1" y="708.40" width="48.1" height="3.8" fill="#e58136"/>
<rect x="556.1" y="715.70" width="48.1" height="5.0" fill="#e58136"/>
</svg>
</body></html>
